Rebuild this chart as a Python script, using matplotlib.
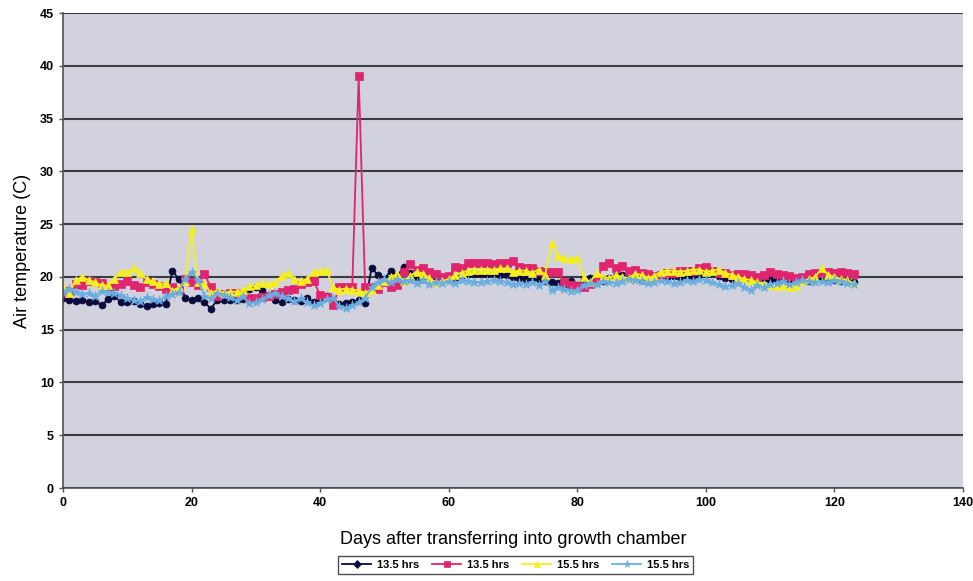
import matplotlib
matplotlib.use('Agg')
import matplotlib.pyplot as plt
import numpy as np

plt.rcParams['font.family'] = ['Liberation Sans', 'DejaVu Sans']

days = np.arange(0, 124)

temp_13_5_a = [
    18.0, 17.8, 17.7, 17.8, 17.6, 17.7, 17.3, 17.9, 18.2, 17.6,
    17.6, 17.7, 17.4, 17.2, 17.4, 17.5, 17.4, 20.6, 19.8, 18.0,
    17.8, 18.0, 17.6, 17.0, 17.8, 17.8, 17.8, 17.8, 17.9, 18.9,
    19.0, 18.8, 18.2, 17.8, 17.6, 17.9, 17.8, 17.7, 18.0, 17.6,
    18.0, 18.2, 17.6, 17.4, 17.5, 17.6, 17.8, 17.5, 20.8, 20.2,
    19.8, 20.6, 20.1, 20.9, 20.4, 20.0, 19.8, 20.2, 19.9, 19.6,
    19.8, 19.9, 20.2, 20.3, 20.3, 20.3, 20.3, 20.3, 20.2, 20.2,
    20.0, 19.9, 19.8, 19.7, 19.8, 19.6, 19.5, 19.4, 19.3, 19.6,
    19.2, 19.8, 19.9, 19.5, 19.6, 19.9, 20.1, 20.2, 20.0, 19.9,
    19.7, 19.6, 19.8, 19.9, 20.0, 20.1, 20.0, 20.1, 20.0, 20.1,
    20.3, 20.4, 20.1, 19.9, 19.8, 20.0, 19.9, 19.8, 19.8, 19.9,
    19.7, 19.8, 19.6, 19.5, 19.8, 19.9, 19.6, 19.8, 19.8, 19.7,
    19.7, 19.6, 19.6, 19.5,
]

temp_13_5_b = [
    18.5, 18.7, 19.3, 19.2, 19.6, 19.5, 19.4, 19.0, 19.1, 19.3,
    19.6, 19.2, 19.0, 19.5, 19.3, 19.1, 18.9, 19.0, 18.8, 19.8,
    19.5, 19.2, 20.3, 19.0, 18.2, 18.4, 18.5, 18.5, 18.3, 18.0,
    18.0, 18.1, 18.2, 18.4, 18.6, 18.8, 18.9, 19.3, 19.5, 19.6,
    18.3, 18.1, 17.3, 19.0, 19.0, 19.0, 39.0, 19.0, 19.0, 18.9,
    19.5, 19.0, 19.2, 20.5, 21.2, 20.7, 20.8, 20.5, 20.3, 20.0,
    20.1, 20.9, 20.8, 21.3, 21.3, 21.3, 21.3, 21.2, 21.3, 21.3,
    21.5, 20.9, 20.8, 20.8, 20.6, 20.5, 20.5, 20.5, 19.5, 19.2,
    19.1, 19.0, 19.3, 19.8, 21.0, 21.3, 20.8, 21.0, 20.6, 20.7,
    20.4, 20.3, 20.1, 20.2, 20.4, 20.4, 20.6, 20.6, 20.6, 20.8,
    20.9, 20.6, 20.4, 20.4, 20.2, 20.3, 20.3, 20.2, 20.0, 20.2,
    20.5, 20.3, 20.2, 20.1, 19.9, 20.0, 20.3, 20.4, 20.4, 20.5,
    20.4, 20.5, 20.4, 20.3,
]

temp_15_5_a = [
    19.0, 18.5, 19.7, 20.0, 19.7, 19.5, 19.2, 19.2, 19.8, 20.5,
    20.5, 20.8, 20.4, 19.8, 19.6, 19.3, 19.4, 18.7, 19.0, 19.6,
    24.5, 19.5, 19.3, 18.5, 18.7, 18.5, 18.6, 18.6, 18.8, 19.1,
    19.2, 19.4, 19.3, 19.5, 20.1, 20.4, 19.8, 19.6, 19.8, 20.5,
    20.6, 20.7, 19.0, 18.8, 18.9, 18.8, 18.7, 18.5, 18.8, 19.2,
    19.6, 20.0, 20.3, 19.6, 20.1, 20.5, 20.3, 19.9, 19.5, 19.6,
    19.8, 20.2, 20.4, 20.6, 20.7, 20.7, 20.7, 20.7, 20.8, 20.8,
    20.5, 20.6, 20.6, 20.4, 20.7, 20.2, 23.2, 22.0, 21.8, 21.7,
    21.8, 20.0, 19.5, 20.4, 20.0, 19.9, 20.2, 20.0, 19.9, 20.3,
    20.2, 19.9, 20.1, 20.5, 20.6, 20.6, 20.5, 20.6, 20.7, 20.7,
    20.5, 20.6, 20.7, 20.4, 20.2, 20.0, 19.8, 19.7, 19.5, 19.3,
    19.2, 19.1, 19.2, 19.0, 19.1, 19.6, 19.8, 20.0, 20.8, 20.2,
    20.0, 19.8, 19.7, 19.4,
]

temp_15_5_b = [
    18.6, 18.9, 18.6, 18.4, 18.5, 18.2, 18.7, 18.6, 18.5, 18.3,
    18.0, 17.8, 17.7, 18.1, 17.9, 17.8, 18.2, 18.4, 18.6, 19.8,
    20.5, 19.7, 18.2, 18.0, 18.5, 18.3, 18.1, 17.8, 18.2, 17.5,
    17.6, 17.9, 18.3, 18.5, 18.2, 18.0, 17.7, 18.0, 17.6, 17.3,
    17.5, 17.9, 18.0, 17.2, 17.1, 17.3, 17.6, 18.0, 19.0, 19.5,
    19.8, 19.5, 19.8, 19.6, 19.7, 19.4, 19.7, 19.3, 19.5, 19.4,
    19.6, 19.4, 19.7, 19.6, 19.5, 19.5, 19.6, 19.7, 19.6, 19.5,
    19.3, 19.4, 19.3, 19.5, 19.2, 19.6, 18.8, 19.0, 18.9, 18.7,
    18.8, 19.2, 19.4, 19.3, 19.6, 19.5, 19.4, 19.6, 19.8, 19.7,
    19.6, 19.4, 19.5, 19.7, 19.6, 19.4, 19.5, 19.7, 19.6, 19.8,
    19.7, 19.5, 19.3, 19.1, 19.2, 19.4, 19.0, 18.8, 19.2, 19.0,
    19.3, 19.4, 19.6, 19.3, 19.5, 19.7, 19.6, 19.5, 19.6, 19.5,
    19.7, 19.6, 19.4, 19.3,
]

series_labels = ['13.5 hrs', '13.5 hrs', '15.5 hrs', '15.5 hrs']
series_values = [temp_13_5_a, temp_13_5_b, temp_15_5_a, temp_15_5_b]
styles = [
    dict(color='#0a0a3c', marker='o', markersize=5),
    dict(color='#e0246e', marker='s', markersize=5.5),
    dict(color='#f4f020', marker='^', markersize=6),
    dict(color='#6aaee0', marker='*', markersize=6.5),
]

fig = plt.figure(figsize=(9.73, 5.81), dpi=100)
ax = fig.add_axes((0.0647, 0.160, 0.925, 0.8176))
ax.set_facecolor('#d2d2de')

for vals, lab, st in zip(series_values, series_labels, styles):
    ax.plot(days, vals, label=lab, linewidth=1.3, markeredgewidth=0.5,
            markeredgecolor=st['color'], **st)

ax.set_xlim(0, 140)
ax.set_ylim(0, 45)
ax.set_xticks(range(0, 141, 20))
ax.set_yticks(range(0, 46, 5))
ax.yaxis.grid(True, color='#3c3c44', linewidth=1.5)
ax.set_axisbelow(True)
for side in ('top', 'right'):
    ax.spines[side].set_visible(False)
for side in ('left', 'bottom'):
    ax.spines[side].set_color('#505058')
    ax.spines[side].set_linewidth(1.2)
ax.tick_params(axis='both', labelsize=9, length=3, color='#505058', width=1)
for lbl in ax.get_xticklabels() + ax.get_yticklabels():
    lbl.set_fontweight('bold')

ax.set_ylabel('Air temperature (C)', fontsize=13, labelpad=6)
ax.set_xlabel('Days after transferring into growth chamber', fontsize=13, labelpad=16)

# legend handles use smaller markers than the plotted series
leg = fig.legend(loc='lower center', bbox_to_anchor=(0.530, 0.003), ncol=4,
                 prop={'size': 8, 'weight': 'bold'}, frameon=True,
                 fancybox=False, edgecolor='#202020', handlelength=2.6,
                 columnspacing=1.2, handletextpad=0.5, borderpad=0.35,
                 markerscale=0.8)
for h, st in zip(leg.legend_handles, styles):
    if st['color'] == '#0a0a3c':
        h.set_marker('D')
leg.get_frame().set_linewidth(1.0)

fig.savefig('out.png', dpi=100)
